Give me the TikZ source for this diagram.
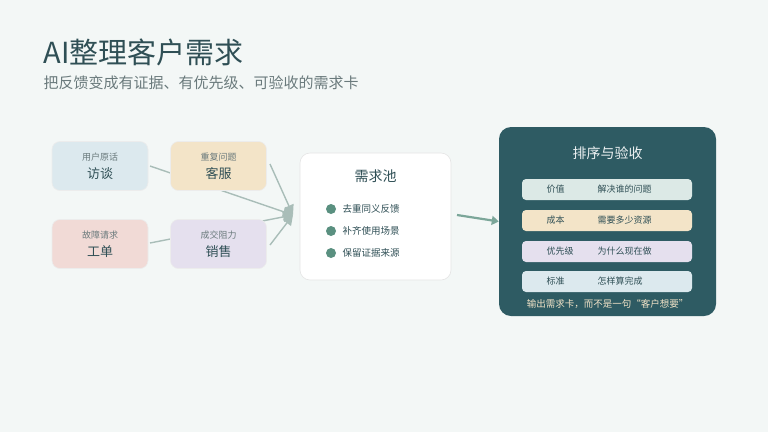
\documentclass[tikz,border=0pt]{standalone}
\usepackage{fontspec}
\setmainfont{Noto Sans CJK SC}
\usetikzlibrary{arrows.meta}
\definecolor{bg}{HTML}{F3F7F6}
\definecolor{ink}{HTML}{2F4F55}
\definecolor{sub}{HTML}{6A7A7C}
\definecolor{teal}{HTML}{2E5B63}
\definecolor{cblue}{HTML}{DCE9EE}
\definecolor{cyel}{HTML}{F3E4C8}
\definecolor{cred}{HTML}{F1DAD6}
\definecolor{cvio}{HTML}{E5E0EE}
\definecolor{cgrn}{HTML}{DCE9E6}
\definecolor{line}{HTML}{A9BDB8}
\definecolor{dot}{HTML}{5A9080}
\begin{document}
\begin{tikzpicture}[x=1pt,y=-1pt,
  src/.style={draw=white!85!gray,rounded corners=8pt,minimum width=96pt,minimum height=49pt,line width=0.6pt},
  big/.style={font=\fontsize{13}{15}\selectfont,text=ink},
  small/.style={font=\fontsize{9}{11}\selectfont,text=sub},
  row/.style={rounded corners=4pt,minimum width=170pt,minimum height=21pt},
  rl/.style={font=\fontsize{9}{11}\selectfont,text=ink,anchor=west},
  conn/.style={draw=line,line width=1.4pt,-{Triangle[length=10pt,width=10pt]}}]
\fill[bg] (0,0) rectangle (768,432);
\useasboundingbox (0,0) rectangle (768,432);
\node[anchor=west,text=ink,font=\fontsize{29}{32}\selectfont] (title) at (40,52) {AI整理客户需求};
\node[anchor=west,text=sub,font=\fontsize{15}{18}\selectfont] (subt) at (40,83) {把反馈变成有证据、有优先级、可验收的需求卡};
\coordinate (tip) at (293,215);
% connectors behind boxes
\draw[conn] (150,166) -- (tip);
\draw[conn] (150,243) -- (tip);
\node[src,fill=cblue] (a) at (100,166) {};
\node[src,fill=cyel] (b) at (218.5,166) {};
\node[src,fill=cred] (c) at (100,244) {};
\node[src,fill=cvio] (d) at (218.5,244) {};
\draw[conn] (270,164) -- (tip);
\draw[conn] (270,245) -- (tip);
\foreach \n/\t/\s in {a/访谈/用户原话,b/客服/重复问题,c/工单/故障请求,d/销售/成交阻力}{
  \node[big] at ([yshift=-8pt]\n.center) {\t};
  \node[small] at ([yshift=9pt]\n.center) {\s};
}
\node[draw=white!80!gray,fill=white,rounded corners=10pt,minimum width=151pt,minimum height=127pt,line width=0.6pt] (pool) at (375.5,216.5) {};
\node[font=\fontsize{14}{16}\selectfont,text=ink] (pt) at (375.5,176) {需求池};
\foreach \y/\t in {209/去重同义反馈,231/补齐使用场景,253/保留证据来源}{
  \fill[dot] (331,\y) circle (5pt);
  \node[anchor=west,font=\fontsize{9.5}{11}\selectfont,text=ink] at (339,\y) {\t};
}
\node[fill=teal,rounded corners=12pt,minimum width=217pt,minimum height=189pt] (panel) at (607.5,221.5) {};
\draw[draw=dot!80!white,line width=2.2pt,-{Triangle[length=7pt,width=9pt]}] (457,215) -- (panel.west);
\node[font=\fontsize{14}{16}\selectfont,text=white!92!teal] (rt) at (607.5,153) {排序与验收};
\foreach \y/\c/\a/\b in {189.5/cgrn/价值/解决谁的问题,220.5/cyel/成本/需要多少资源,251.5/cvio/优先级/为什么现在做,281.5/cblue/标准/怎样算完成}{
  \node[row,fill=\c] at (607,\y) {};
  \node[rl] at (543,\y) {\a};
  \node[rl] at (594,\y) {\b};
}
\node[font=\fontsize{9.5}{11}\selectfont,text=cyel] (foot) at (607.5,304) {输出需求卡，而不是一句“客户想要”};
\end{tikzpicture}
\end{document}
